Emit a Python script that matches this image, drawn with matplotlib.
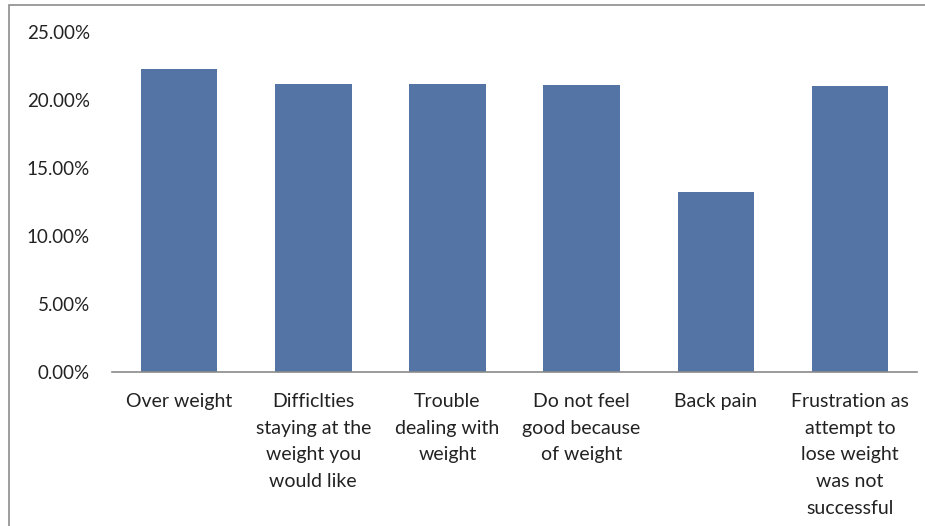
import matplotlib
matplotlib.use("Agg")
import matplotlib.pyplot as plt
from matplotlib.patches import Rectangle
from matplotlib.ticker import FuncFormatter

categories = [
    "Over weight",
    "Difficlties\nstaying at the\nweight you\nwould like",
    "Trouble\ndealing with\nweight",
    "Do not feel\ngood because\nof weight",
    "Back pain",
    "Frustration as\nattempt to\nlose weight\nwas not\nsuccessful",
]
values = [22.3, 21.2, 21.2, 21.1, 13.2, 21.0]
yticks = [0, 5, 10, 15, 20, 25]

plt.rcParams['font.family'] = ['Lato', 'DejaVu Sans']

fig = plt.figure(figsize=(9.25, 5.26), dpi=100)
ax = fig.add_axes([0.1211, 0.2928, 0.8703, 0.6464])

x = range(len(categories))
ax.bar(x, values, width=0.57, color='#5474a6')

ax.set_xlim(-0.5, 5.5)
ax.set_ylim(0, 25)
ax.set_yticks(yticks)
ax.yaxis.set_major_formatter(FuncFormatter(lambda v, p: f"{v:.2f}%"))
ax.set_xticks(list(x))
ax.set_xticklabels(categories, linespacing=1.7, va='top')

for s in ['top', 'right', 'left']:
    ax.spines[s].set_visible(False)
ax.spines['bottom'].set_color('#8a8a8a')
ax.spines['bottom'].set_linewidth(1.2)
ax.tick_params(axis='both', length=0, labelsize=14, colors='#222222')
ax.tick_params(axis='y', labelsize=13.5, pad=16)
ax.tick_params(axis='x', pad=15)

# outer chart border
fig.patches.append(Rectangle((9 / 925, -0.1), 1.2, 1 - 4.5 / 526 + 0.1,
                             transform=fig.transFigure, fill=False,
                             edgecolor='#8c8c8c', linewidth=1.2))

fig.savefig("out.png", dpi=100)
